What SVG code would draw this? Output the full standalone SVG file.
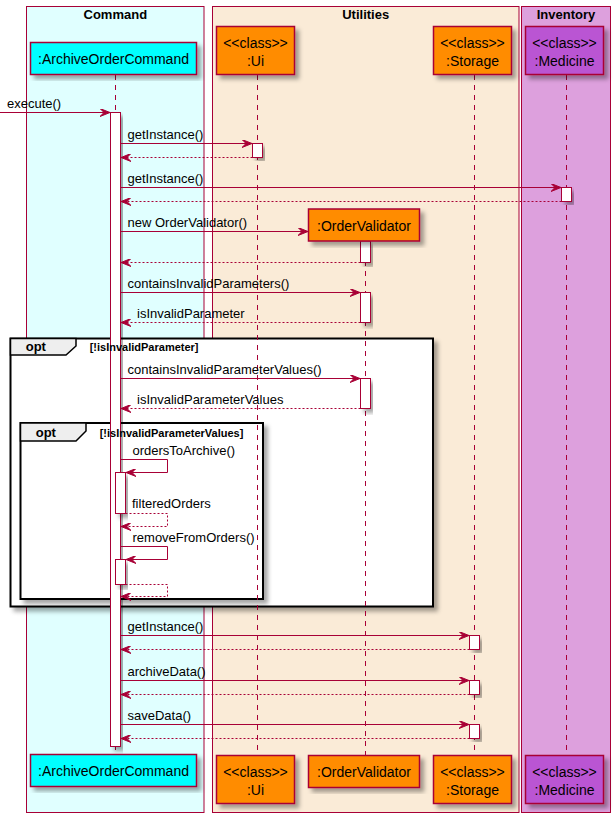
<svg xmlns="http://www.w3.org/2000/svg" width="616" height="818" viewBox="0 0 616 818">
  <style>
    .box { stroke: #A80036; stroke-width: 1; }
    .title { font-family: "Liberation Sans", Arial, sans-serif; font-size: 13px; font-weight: bold; text-anchor: middle; fill: #000; }
    .part { stroke: #A80036; stroke-width: 1.5; filter: url(#shadow); }
    .ptext { font-family: "Liberation Sans", Arial, sans-serif; font-size: 14px; text-anchor: middle; fill: #000; }
    .life { stroke: #A80036; stroke-width: 1; stroke-dasharray: 5,5; fill: none; }
    .act { fill: #FFFFFF; stroke: #A80036; stroke-width: 1; filter: url(#shadow); }
    .msg { stroke: #A80036; stroke-width: 1; fill: none; marker-end: url(#head); }
    .ret { stroke: #A80036; stroke-width: 1; fill: none; stroke-dasharray: 2,2; marker-end: url(#head); }
    .label { font-family: "Liberation Sans", Arial, sans-serif; font-size: 13px; fill: #000; }
    .frame { fill: #FFFFFF; stroke: #000; stroke-width: 2; filter: url(#shadow); }
    .tab { fill: #EEEEEE; stroke: #000; stroke-width: 1.5; }
    .opt { font-family: "Liberation Sans", Arial, sans-serif; font-size: 13px; font-weight: bold; fill: #000; }
    .guard { font-family: "Liberation Sans", Arial, sans-serif; font-size: 11px; font-weight: bold; fill: #000; }
  </style>
  <defs>
    <filter id="shadow" x="-10%" y="-10%" width="130%" height="130%">
      <feDropShadow dx="4" dy="4" stdDeviation="2" flood-color="#000" flood-opacity="0.35"/>
    </filter>
    <marker id="head" viewBox="0 0 10 8" refX="10" refY="4" markerWidth="10" markerHeight="8" markerUnits="userSpaceOnUse" orient="auto">
      <path d="M0,0 L10,4 L0,8 L4,4 Z" fill="#A80036" stroke="#A80036" stroke-width="1" stroke-dasharray="none"/>
    </marker>
  </defs>

  <!-- package boxes -->
  <g id="box-command">
    <rect class="box" x="26.5" y="6.5" width="177.5" height="806" fill="#E0FFFF"/>
    <text class="title" x="115.3" y="19">Command</text>
  </g>
  <g id="box-utilities">
    <rect class="box" x="212.5" y="6.5" width="306.5" height="806" fill="#FAEBD7"/>
    <text class="title" x="365.7" y="19">Utilities</text>
  </g>
  <g id="box-inventory">
    <rect class="box" x="521.5" y="6.5" width="89" height="806" fill="#DDA0DD"/>
    <text class="title" x="566" y="19">Inventory</text>
  </g>

  <!-- opt fragment bodies -->
  <g id="opt-parameter">
    <rect class="frame" x="10.5" y="338.5" width="422.5" height="268"/>
    <path class="tab" d="M10.5,338.5 H76 V346 L66,355 H10.5 Z"/>
  </g>
  <g id="opt-parameter-values">
    <rect class="frame" x="20.5" y="423" width="242.5" height="176"/>
    <path class="tab" d="M20.5,423 H86 V431 L76,441 H20.5 Z"/>
  </g>

  <!-- lifelines -->
  <g id="lifelines">
    <line class="life" x1="115.5" y1="75" x2="115.5" y2="754.5"/>
    <line class="life" x1="257.5" y1="75" x2="257.5" y2="755"/>
    <line class="life" x1="365.5" y1="241" x2="365.5" y2="755"/>
    <line class="life" x1="474.5" y1="75" x2="474.5" y2="755"/>
    <line class="life" x1="566.5" y1="75" x2="566.5" y2="755"/>
  </g>

  <!-- activation bars -->
  <g id="activations">
    <rect class="act" x="110.5" y="112.5" width="10" height="634"/>
    <rect class="act" x="252.5" y="143.5" width="10" height="14"/>
    <rect class="act" x="561.5" y="187.5" width="10" height="14"/>
    <rect class="act" x="360.5" y="241" width="10" height="21.5"/>
    <rect class="act" x="360.5" y="292.5" width="10" height="30"/>
    <rect class="act" x="360.5" y="378.5" width="10" height="30"/>
    <rect class="act" x="115.5" y="472.5" width="10" height="41"/>
    <rect class="act" x="115.5" y="559.5" width="10" height="25"/>
    <rect class="act" x="469.5" y="635.5" width="10" height="14"/>
    <rect class="act" x="469.5" y="680.5" width="10" height="14"/>
    <rect class="act" x="469.5" y="724.5" width="10" height="14"/>
  </g>

  <!-- opt fragment headings -->
  <g id="opt-labels">
    <text class="opt" x="25.7" y="351">opt</text>
    <text class="guard" x="89.7" y="351">[!isInvalidParameter]</text>
    <text class="opt" x="35.7" y="437">opt</text>
    <text class="guard" x="99.7" y="437">[!isInvalidParameterValues]</text>
  </g>

  <!-- messages -->
  <g id="connectors">
    <line class="msg" x1="0" y1="112.5" x2="110" y2="112.5"/>
    <text class="label" x="7" y="108">execute()</text>

    <line class="msg" x1="120.5" y1="143.5" x2="252" y2="143.5"/>
    <text class="label" x="127.5" y="138.5">getInstance()</text>
    <line class="ret" x1="252.5" y1="157.5" x2="121" y2="157.5"/>

    <line class="msg" x1="120.5" y1="187.5" x2="561" y2="187.5"/>
    <text class="label" x="127.5" y="182.5">getInstance()</text>
    <line class="ret" x1="561.5" y1="201.5" x2="121" y2="201.5"/>

    <line class="msg" x1="120.5" y1="231.5" x2="308" y2="231.5"/>
    <text class="label" x="127.5" y="226.5">new OrderValidator()</text>
    <line class="ret" x1="360.5" y1="262.5" x2="121" y2="262.5"/>

    <line class="msg" x1="120.5" y1="292.5" x2="360" y2="292.5"/>
    <text class="label" x="127.5" y="287.5">containsInvalidParameters()</text>
    <line class="ret" x1="360.5" y1="322.5" x2="121" y2="322.5"/>
    <text class="label" x="137" y="317.5">isInvalidParameter</text>

    <line class="msg" x1="120.5" y1="378.5" x2="360" y2="378.5"/>
    <text class="label" x="127.5" y="373.5">containsInvalidParameterValues()</text>
    <line class="ret" x1="360.5" y1="408.5" x2="121" y2="408.5"/>
    <text class="label" x="137" y="403.5">isInvalidParameterValues</text>

    <polyline class="msg" points="120.5,459.5 167.5,459.5 167.5,472.5 126,472.5"/>
    <text class="label" x="132.5" y="454.5">ordersToArchive()</text>
    <polyline class="ret" points="125.5,513.5 167.5,513.5 167.5,526.5 121,526.5"/>
    <text class="label" x="132" y="507.5">filteredOrders</text>

    <polyline class="msg" points="120.5,546.5 167.5,546.5 167.5,559.5 126,559.5"/>
    <text class="label" x="132.5" y="541.5">removeFromOrders()</text>
    <polyline class="ret" points="125.5,584.5 167.5,584.5 167.5,596.5 121,596.5"/>

    <line class="msg" x1="120.5" y1="635.5" x2="469" y2="635.5"/>
    <text class="label" x="127.5" y="630.5">getInstance()</text>
    <line class="ret" x1="469.5" y1="649.5" x2="121" y2="649.5"/>

    <line class="msg" x1="120.5" y1="680.5" x2="469" y2="680.5"/>
    <text class="label" x="127.5" y="675.5">archiveData()</text>
    <line class="ret" x1="469.5" y1="694.5" x2="121" y2="694.5"/>

    <line class="msg" x1="120.5" y1="724.5" x2="469" y2="724.5"/>
    <text class="label" x="127.5" y="719.5">saveData()</text>
    <line class="ret" x1="469.5" y1="738.5" x2="121" y2="738.5"/>
  </g>

  <!-- participants -->
  <g id="archive-order-command">
    <rect class="part" x="30.5" y="42.5" width="166" height="32" fill="#00FFFF"/>
    <text class="ptext" x="113.5" y="64">:ArchiveOrderCommand</text>
    <rect class="part" x="30.5" y="754.5" width="166" height="32" fill="#00FFFF"/>
    <text class="ptext" x="113.5" y="776">:ArchiveOrderCommand</text>
  </g>
  <g id="ui">
    <rect class="part" x="216.5" y="26.5" width="78" height="48" fill="#FF8C00"/>
    <text class="ptext" x="255.5" y="48">&lt;&lt;class&gt;&gt;</text>
    <text class="ptext" x="255.5" y="65.5">:Ui</text>
    <rect class="part" x="216.5" y="755.5" width="78" height="48" fill="#FF8C00"/>
    <text class="ptext" x="255.5" y="777">&lt;&lt;class&gt;&gt;</text>
    <text class="ptext" x="255.5" y="794.5">:Ui</text>
  </g>
  <g id="order-validator">
    <rect class="part" x="308.5" y="209" width="111" height="32" fill="#FF8C00"/>
    <text class="ptext" x="364" y="230.5">:OrderValidator</text>
    <rect class="part" x="308.5" y="755.5" width="111" height="32" fill="#FF8C00"/>
    <text class="ptext" x="364" y="777">:OrderValidator</text>
  </g>
  <g id="storage">
    <rect class="part" x="433.5" y="26.5" width="78" height="48" fill="#FF8C00"/>
    <text class="ptext" x="472.5" y="48">&lt;&lt;class&gt;&gt;</text>
    <text class="ptext" x="472.5" y="65.5">:Storage</text>
    <rect class="part" x="433.5" y="755.5" width="78" height="48" fill="#FF8C00"/>
    <text class="ptext" x="472.5" y="777">&lt;&lt;class&gt;&gt;</text>
    <text class="ptext" x="472.5" y="794.5">:Storage</text>
  </g>
  <g id="medicine">
    <rect class="part" x="525.5" y="26.5" width="78" height="48" fill="#BA55D3"/>
    <text class="ptext" x="564.5" y="48">&lt;&lt;class&gt;&gt;</text>
    <text class="ptext" x="564.5" y="65.5">:Medicine</text>
    <rect class="part" x="525.5" y="755.5" width="78" height="48" fill="#BA55D3"/>
    <text class="ptext" x="564.5" y="777">&lt;&lt;class&gt;&gt;</text>
    <text class="ptext" x="564.5" y="794.5">:Medicine</text>
  </g>
</svg>
